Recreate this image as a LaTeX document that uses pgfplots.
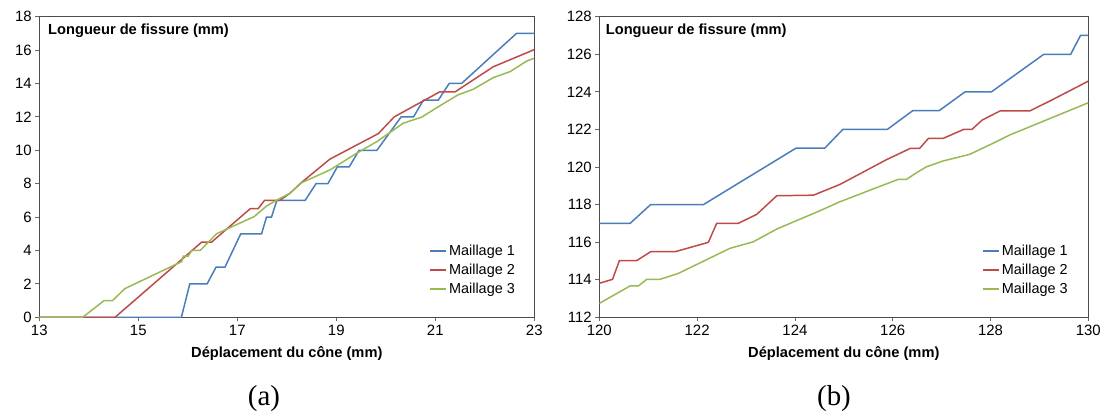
\documentclass[border=0pt]{standalone}
\usepackage{fontspec}
\setmainfont{Liberation Sans}
\newfontfamily\timesfont{Liberation Serif}
\usepackage{pgfplots}
\pgfplotsset{compat=1.18}
\definecolor{c1}{HTML}{4A7EBB}
\definecolor{c2}{HTML}{BE4B48}
\definecolor{c3}{HTML}{98B954}
\pgfplotsset{
 myaxis/.style={
  scale only axis, height=300.6bp, anchor=south west,
  axis line style={draw=black!70, line width=1bp},
  tick style={draw=black!60, line width=0.8bp},
  tick align=outside, major tick length=4bp,
  xtick pos=bottom, ytick pos=left,
  ticklabel style={font=\fontsize{15}{17}\selectfont},
  /pgf/number format/assume math mode=true,
  xlabel style={font=\bfseries\fontsize{14.7}{17}\selectfont, at={(axis description cs:0.5,0)}, anchor=center, yshift=-36bp},
  every axis plot/.append style={line width=1.5bp, mark=none},
  legend style={draw=none, fill=none, font=\fontsize{14.5}{16.5}\selectfont, anchor=north west, row sep=3bp, inner sep=0pt},
  legend image code/.code={\draw[##1] (0bp,0bp) -- (16bp,0bp);},
  legend cell align=left,
 }
}
\begin{document}
\begin{tikzpicture}
\path[use as bounding box] (0bp,0bp) rectangle (1107bp,417bp);
\begin{axis}[myaxis, at={(39.3bp,99.7bp)}, width=495bp,
  xmin=13, xmax=23, ymin=0, ymax=18,
  xtick={13,15,17,19,21,23}, ytick={0,2,...,18},
  xlabel={Déplacement du cône (mm)},
  legend style={at={(0.788,0.247)}}]
\addplot[c1] coordinates {(13,0)(15.87,0)(16.04,2)(16.39,2)(16.57,3)(16.75,3)(17.07,5)(17.49,5)(17.59,6)(17.69,6)(17.80,7)(18.37,7)(18.59,8)(18.83,8)(19.02,9)(19.26,9)(19.46,10)(19.82,10)(20.31,12)(20.56,12)(20.76,13)(21.06,13)(21.28,14)(21.53,14)(22.64,17)(23,17)};
\addlegendentry{Maillage 1}
\addplot[c2] coordinates {(13,0)(14.53,0)(16.28,4.5)(16.48,4.5)(17.26,6.5)(17.42,6.5)(17.55,7)(17.86,7)(18.06,7.42)(18.30,8.08)(18.87,9.47)(19.85,11.0)(20.17,12)(21.09,13.5)(21.40,13.5)(22.17,15)(23,16.03)};
\addlegendentry{Maillage 2}
\addplot[c3] coordinates {(13,0)(13.875,0)(14.31,1)(14.48,1)(14.73,1.72)(15.875,3.33)(15.91,3.67)(16.01,3.67)(16.08,4)(16.25,4)(16.58,5.0)(17.34,6.03)(17.59,6.66)(17.80,7.02)(18.06,7.42)(18.30,8.06)(18.87,8.82)(19.41,9.82)(19.82,10.52)(20.35,11.62)(20.72,11.98)(21.09,12.66)(21.46,13.32)(21.77,13.66)(22.17,14.35)(22.51,14.71)(22.85,15.35)(23,15.51)};
\addlegendentry{Maillage 3}
\node[anchor=west, font=\bfseries\fontsize{14.7}{17}\selectfont, inner sep=0pt] at (rel axis cs:0.0176,0.952) {Longueur de fissure (mm)};
\end{axis}
\begin{axis}[myaxis, at={(599.3bp,99.7bp)}, width=489bp,
  xmin=120, xmax=130, ymin=112, ymax=128,
  xtick={120,122,...,130}, ytick={112,114,...,128},
  xlabel={Déplacement du cône (mm)},
  legend style={at={(0.783,0.247)}}]
\addplot[c1] coordinates {(120,117)(120.63,117)(121.05,118)(122.13,118)(124.02,121)(124.61,121)(124.98,122)(125.89,122)(126.41,123)(126.95,123)(127.48,124)(128.02,124)(129.09,126)(129.64,126)(129.84,127)(130,127)};
\addlegendentry{Maillage 1}
\addplot[c2] coordinates {(120,113.81)(120.27,114.02)(120.41,115.01)(120.76,115.01)(121.05,115.49)(121.55,115.49)(122.23,115.99)(122.40,117.0)(122.84,117.0)(123.22,117.48)(123.63,118.47)(124.38,118.5)(124.92,119.07)(125.88,120.4)(126.36,120.99)(126.55,120.99)(126.73,121.52)(127.03,121.52)(127.45,122.0)(127.62,122.0)(127.83,122.5)(128.20,122.99)(128.81,122.99)(129.25,123.56)(130,124.57)};
\addlegendentry{Maillage 2}
\addplot[c3] coordinates {(120,112.74)(120.63,113.67)(120.80,113.67)(120.97,114.02)(121.24,114.02)(121.62,114.34)(122.67,115.67)(123.15,116.02)(123.63,116.70)(124.51,117.67)(124.92,118.15)(126.11,119.34)(126.28,119.34)(126.49,119.70)(126.69,120.01)(127.03,120.32)(127.57,120.67)(128.05,121.26)(128.39,121.70)(130,123.42)};
\addlegendentry{Maillage 3}
\node[anchor=west, font=\bfseries\fontsize{14.7}{17}\selectfont, inner sep=0pt] at (rel axis cs:0.013,0.952) {Longueur de fissure (mm)};
\end{axis}
\node[font=\timesfont\fontsize{29}{33}\selectfont] at (264bp,18.5bp) {(a)};
\node[font=\timesfont\fontsize{29}{33}\selectfont] at (834bp,18.5bp) {(b)};
\end{tikzpicture}
\end{document}
